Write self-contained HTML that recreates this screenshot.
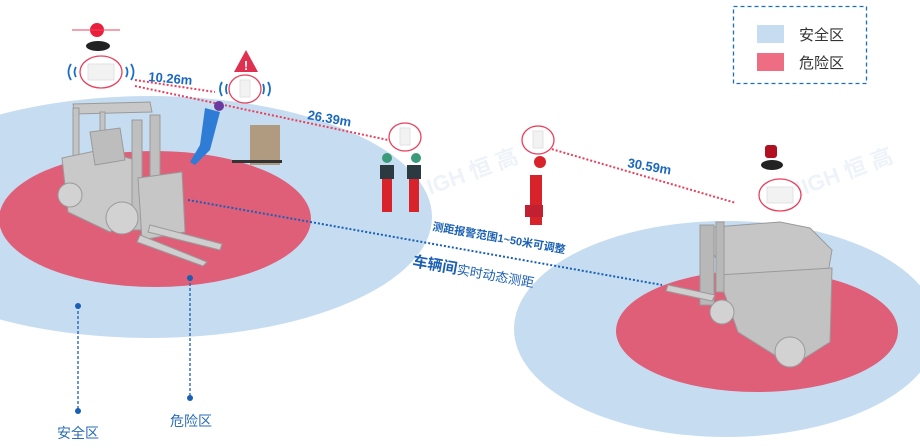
<!DOCTYPE html>
<html><head><meta charset="utf-8"><style>
html,body{margin:0;padding:0;background:#fff;}
svg{display:block;font-family:"Liberation Sans","Noto Sans CJK SC",sans-serif;}
</style></head><body>
<svg width="920" height="448" viewBox="0 0 920 448" xmlns="http://www.w3.org/2000/svg">
<rect width="920" height="448" fill="#fff"/>
<!-- zones -->
<ellipse cx="150" cy="217" rx="282" ry="121" fill="#c6ddf1"/>
<ellipse cx="155" cy="219" rx="156" ry="68" fill="#df5f79"/>
<ellipse cx="726" cy="329" rx="212" ry="108" fill="#c6ddf1"/>
<ellipse cx="757" cy="331" rx="141" ry="61" fill="#df5f79"/>
<!-- legend -->
<rect x="733.5" y="6.5" width="133" height="77" fill="#fff" stroke="#1a6fc4" stroke-width="1.3" stroke-dasharray="4,3"/>
<rect x="757" y="25" width="27" height="18" fill="#c6ddf1"/>
<rect x="757" y="53" width="27" height="18" fill="#ef6d82"/>
<text x="799" y="40" font-size="15" fill="#333">安全区</text>
<text x="799" y="68" font-size="15" fill="#333">危险区</text>
<!-- watermark -->
<text x="430" y="195" font-size="22" fill="#eef3fa" font-weight="bold" transform="rotate(-20 430 195)">IGH 恒 高</text>
<text x="790" y="200" font-size="22" fill="#eef3fa" font-weight="bold" transform="rotate(-20 790 200)">HIGH 恒 高</text>
<!-- dotted lines -->
<g stroke="#e8405c" stroke-width="2" stroke-dasharray="2,2" fill="none">
<line x1="135" y1="80" x2="215" y2="92"/>
<line x1="135" y1="86" x2="388" y2="140"/>
<line x1="548" y1="148" x2="736" y2="203"/>
</g>
<line x1="188" y1="200" x2="662" y2="285" stroke="#1a5fb4" stroke-width="2" stroke-dasharray="2,2"/>
<!-- distance labels -->
<g fill="#1a68c0" font-weight="bold" font-size="13">
<text x="148" y="81" transform="rotate(5 148 81)">10.26m</text>
<text x="307" y="119" transform="rotate(10 307 119)">26.39m</text>
<text x="627" y="167" transform="rotate(10 627 167)">30.59m</text>
</g>
<text x="432" y="230" font-size="11" fill="#1a5fb4" font-weight="bold" transform="rotate(10 432 230)">测距报警范围1~50米可调整</text>
<text x="412" y="266" font-size="15" fill="#1a5fb4" transform="rotate(10 412 266)"><tspan font-weight="bold">车辆间</tspan><tspan font-size="13">实时动态测距</tspan></text>
<!-- left forklift -->
<g stroke="#9a9a9a" stroke-width="1">
<path d="M73 104 L150 102 L152 112 L75 114 Z" fill="#c8c8c8"/>
<rect x="73" y="108" width="6" height="70" fill="#c4c4c4"/>
<rect x="100" y="112" width="5" height="50" fill="#c4c4c4"/>
<path d="M62 158 L100 150 L135 160 L140 210 L110 232 L68 212 Z" fill="#c9c9c9"/>
<path d="M90 132 L120 128 L125 160 L95 165 Z" fill="#bdbdbd"/>
<rect x="132" y="120" width="10" height="110" fill="#bfbfbf"/>
<rect x="150" y="115" width="10" height="110" fill="#bfbfbf"/>
<path d="M138 178 L182 172 L185 232 L142 240 Z" fill="#c6c6c6"/>
<path d="M150 225 L222 244 L220 250 L148 232 Z" fill="#cfcfcf"/>
<path d="M140 235 L207 262 L203 266 L137 242 Z" fill="#cfcfcf"/>
<circle cx="122" cy="218" r="16" fill="#d2d2d2"/>
<circle cx="70" cy="195" r="12" fill="#d2d2d2"/>
</g>
<!-- right forklift -->
<g stroke="#9a9a9a" stroke-width="1">
<path d="M702 228 L780 222 L810 228 L832 250 L825 290 L735 300 Z" fill="#c6c6c6"/>
<path d="M718 275 L832 268 L830 342 L792 366 L738 332 Z" fill="#c2c2c2"/>
<rect x="700" y="225" width="14" height="80" fill="#b8b8b8"/>
<rect x="716" y="222" width="8" height="70" fill="#b8b8b8"/>
<circle cx="790" cy="352" r="15" fill="#d2d2d2"/>
<circle cx="722" cy="312" r="12" fill="#d2d2d2"/>
<path d="M668 285 L715 295 L712 301 L666 291 Z" fill="#cfcfcf"/>
</g>
<!-- alarm lights -->
<circle cx="97" cy="30" r="7" fill="#e8203c"/>
<line x1="72" y1="30" x2="120" y2="30" stroke="#f04060" stroke-width="1"/>
<ellipse cx="98" cy="46" rx="12" ry="5" fill="#222"/>
<rect x="765" y="145" width="12" height="13" rx="3" fill="#b01020"/>
<ellipse cx="772" cy="165" rx="11" ry="5" fill="#222"/>
<!-- device bubbles -->
<g fill="#fff" stroke="#e8405c" stroke-width="1.3">
<ellipse cx="101" cy="72" rx="21" ry="16"/>
<ellipse cx="245" cy="89" rx="16" ry="14"/>
<ellipse cx="405" cy="137" rx="16" ry="14"/>
<ellipse cx="538" cy="140" rx="16" ry="14"/>
<ellipse cx="780" cy="195" rx="21" ry="16"/>
</g>
<g fill="#f2f2f2" stroke="#ddd" stroke-width="0.8">
<rect x="88" y="64" width="26" height="16"/>
<rect x="240" y="80" width="10" height="17"/>
<rect x="400" y="128" width="10" height="17"/>
<rect x="533" y="131" width="10" height="17"/>
<rect x="767" y="187" width="26" height="16"/>
</g>
<g fill="none" stroke="#1a6fc4" stroke-width="1.8">
<path d="M71 64 Q66 72 71 80"/><path d="M76 67 Q73 72 76 77"/>
<path d="M131 64 Q136 72 131 80"/><path d="M126 67 Q129 72 126 77"/>
<path d="M222 82 Q218 89 222 96"/><path d="M227 84 Q225 89 227 94"/>
<path d="M268 82 Q272 89 268 96"/><path d="M263 84 Q265 89 263 94"/>
</g>
<path d="M234 72 L246 50 L258 72 Z" fill="#e03050"/>
<text x="246" y="70" font-size="13" fill="#fff" text-anchor="middle" font-weight="bold">!</text>
<!-- worker with cart -->
<path d="M205 108 L220 112 L210 150 L195 165 L190 162 L200 145 Z" fill="#2f7cd6"/>
<circle cx="219" cy="106" r="5" fill="#6a3aa0"/>
<rect x="250" y="125" width="30" height="40" fill="#b09a80"/>
<rect x="232" y="160" width="50" height="3" fill="#333"/>
<!-- workers -->
<g fill="#d8232a">
<rect x="382" y="170" width="10" height="42"/>
<rect x="409" y="170" width="10" height="42"/>
<rect x="530" y="175" width="12" height="50"/>
</g>
<g fill="#2a3a40"><rect x="380" y="165" width="14" height="14"/><rect x="407" y="165" width="14" height="14"/></g>
<g fill="#3a9a7a"><circle cx="387" cy="158" r="5"/><circle cx="416" cy="158" r="5"/></g>
<circle cx="540" cy="162" r="6" fill="#d8232a"/>
<rect x="525" y="205" width="18" height="12" fill="#c02030"/>
<!-- bottom markers -->
<g stroke="#1a5fb4" stroke-width="1.3" stroke-dasharray="3,2">
<line x1="78" y1="306" x2="78" y2="411"/>
<line x1="190" y1="278" x2="190" y2="398"/>
</g>
<g fill="#1a5fb4"><circle cx="78" cy="306" r="3"/><circle cx="78" cy="411" r="3"/><circle cx="190" cy="278" r="3"/><circle cx="190" cy="398" r="3"/></g>
<text x="57" y="438" font-size="14" fill="#2a6cb8">安全区</text>
<text x="170" y="426" font-size="14" fill="#2a6cb8">危险区</text>
</svg>
</body></html>
